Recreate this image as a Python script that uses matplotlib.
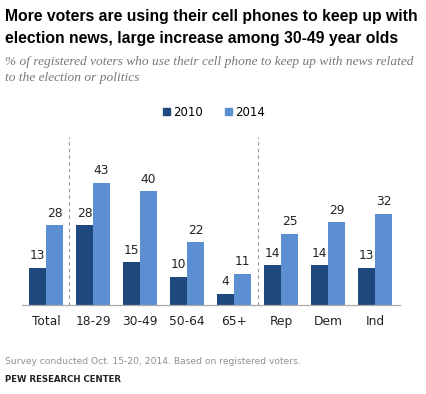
import numpy as np
import matplotlib.pyplot as plt
from matplotlib.patches import Patch

# data
groups = ['Total', '18-29', '30-49', '50-64', '65+', 'Rep', 'Dem', 'Ind']
vals_2010 = [13, 28, 15, 10, 4, 14, 14, 13]
vals_2014 = [28, 43, 40, 22, 11, 25, 29, 32]
years = ['2010', '2014']

dark = '#1f497d'
light = '#5b8fd2'

fig = plt.figure(figsize=(4.26, 3.94), dpi=100)
ax = fig.add_axes([22 / 426, 1 - 305 / 394, 378 / 426, 168 / 394])

x = np.arange(len(groups))
w = 0.36
b1 = ax.bar(x - w / 2, vals_2010, w, color=dark)
b2 = ax.bar(x + w / 2, vals_2014, w, color=light)

for bars, vals in [(b1, vals_2010), (b2, vals_2014)]:
    for r, v in zip(bars, vals):
        ax.annotate(str(v), (r.get_x() + r.get_width() / 2, v),
                    xytext=(0, 4), textcoords='offset points',
                    ha='center', va='bottom', fontsize=8.8, color='#222222')

# dashed separators between total / age / party
for sep in [0.5, 4.5]:
    ax.axvline(sep, color='#999988', lw=0.8, ls=(0, (3, 3)))

ax.set_xlim(-0.51, 7.53)
ax.set_ylim(0, 59)
ax.set_xticks(x)
ax.set_xticklabels(groups, fontsize=8.8, color='#222222')
ax.tick_params(axis='x', length=0, pad=7)
ax.set_yticks([])
for s in ['top', 'right', 'left']:
    ax.spines[s].set_visible(False)
ax.spines['bottom'].set_color('#aaaaaa')
ax.spines['bottom'].set_linewidth(0.9)

handles = [Patch(color=dark, label=years[0]), Patch(color=light, label=years[1])]
fig.legend(handles=handles, loc='center', bbox_to_anchor=(214 / 426, 1 - 112 / 394),
           ncol=2, frameon=False, fontsize=8.5, handlelength=0.6, handleheight=0.6,
           handletextpad=0.3, columnspacing=1.8)

fig.text(5 / 426, 1 - 17 / 394, 'More voters are using their cell phones to keep up with',
         fontsize=11.3, fontweight='bold', va='center', ha='left', family='Liberation Sans')
fig.text(5 / 426, 1 - 38 / 394, 'election news, large increase among 30-49 year olds',
         fontsize=11.3, fontweight='bold', va='center', ha='left', family='Liberation Sans')
fig.text(5 / 426, 1 - 62 / 394,
         '% of registered voters who use their cell phone to keep up with news related',
         fontsize=9.6, style='italic', color='#777777', va='center', ha='left', family='Liberation Serif')
fig.text(5 / 426, 1 - 78 / 394, 'to the election or politics',
         fontsize=9.6, style='italic', color='#777777', va='center', ha='left', family='Liberation Serif')

fig.text(5 / 426, 1 - 362 / 394, 'Survey conducted Oct. 15-20, 2014. Based on registered voters.',
         fontsize=6.6, color='#909090', va='center', ha='left')
fig.text(5 / 426, 1 - 380 / 394, 'PEW RESEARCH CENTER',
         fontsize=6.2, fontweight='bold', color='#222222', va='center', ha='left')

fig.savefig('out.png', dpi=100)
